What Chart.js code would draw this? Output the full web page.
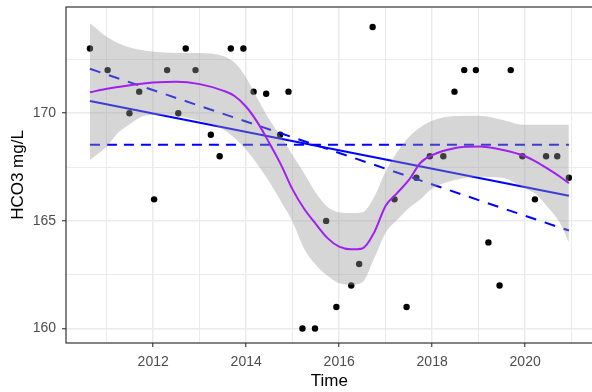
<!DOCTYPE html>
<html>
<head>
<meta charset="utf-8">
<script src="https://cdn.jsdelivr.net/npm/chart.js@4/dist/chart.umd.min.js"></script>
<style>
  html, body { margin: 0; padding: 0; background: #ffffff; overflow: hidden; }
  #wrap { width: 596px; height: 392px; }
</style>
</head>
<body>
<div id="wrap"><canvas id="chart" width="596" height="392"></canvas></div>
<script>
// Sampled HCO3 concentrations (mg/L) against decimal year
const sampleTime = [2010.64, 2011.02, 2011.49, 2011.70, 2012.02, 2012.30, 2012.54, 2012.70, 2012.91, 2013.24,
                    2013.43, 2013.67, 2013.94, 2014.16, 2014.43, 2014.73, 2014.91, 2015.21, 2015.48, 2015.72,
                    2015.94, 2016.26, 2016.43, 2016.72, 2017.19, 2017.45, 2017.66, 2017.95, 2018.24, 2018.48,
                    2018.69, 2018.94, 2019.21, 2019.45, 2019.69, 2019.94, 2020.21, 2020.45, 2020.69, 2020.94];
const hco3 = [173, 172, 170, 171, 166, 172, 170, 173, 172, 169,
              168, 173, 173, 171, 170.9, 169, 171, 160, 160, 165,
              161, 162, 163, 174, 166, 161, 167, 168, 168, 171,
              172, 172, 164, 162, 172, 168, 166, 168, 168, 167];

// Loess smooth with its confidence band
const smoothTime = [2010.64, 2011.0, 2011.25, 2011.5, 2011.75, 2012.0, 2012.5, 2013.0, 2013.5, 2013.75,
                    2014.0, 2014.25, 2014.5, 2014.75, 2015.0, 2015.25, 2015.5, 2015.75, 2016.0, 2016.25,
                    2016.5, 2016.75, 2017.0, 2017.25, 2017.5, 2017.75, 2018.0, 2018.5, 2019.0, 2019.5,
                    2020.0, 2020.25, 2020.5, 2020.75, 2020.94];
const smoothFit = [170.97, 171.13, 171.22, 171.30, 171.37, 171.42, 171.46, 171.35, 171.05, 170.80,
                   170.30, 169.55, 168.60, 167.60, 166.45, 165.55, 164.85, 164.20, 163.80, 163.68,
                   163.72, 164.45, 165.70, 166.30, 166.90, 167.70, 168.05, 168.38, 168.45, 168.30,
                   168.00, 167.73, 167.40, 167.05, 166.75];
const smoothUpper = [174.18, 173.55, 173.25, 173.05, 172.93, 172.85, 172.80, 172.80, 172.65, 172.35,
                     171.65, 170.65, 169.69, 168.90, 168.05, 167.20, 166.30, 165.65, 165.40, 165.36,
                     165.40, 166.10, 167.30, 168.20, 168.90, 169.35, 169.65, 169.87, 169.88, 169.70,
                     169.46, 169.46, 169.46, 169.46, 169.46];
const smoothLower = [167.83, 168.45, 169.10, 169.50, 169.84, 169.92, 169.87, 169.65, 169.25, 168.85,
                     168.30, 167.60, 166.80, 165.90, 164.95, 163.70, 162.95, 162.45, 162.10, 162.03,
                     162.15, 163.25, 164.45, 165.05, 165.60, 166.00, 166.50, 166.90, 167.05, 167.00,
                     166.50, 166.20, 165.60, 164.90, 164.00];

// Straight reference lines, given at the ends of the record
const lineTime = [2010.64, 2020.94];
const linearTrend = [170.57, 166.17];
const meanLevel = [168.53, 168.53];
const slopeTrend = [172.06, 164.55];

// Axis ranges and tick steps
const xRange = [2010.125, 2021.455];
const yRange = [159.33, 174.93];
const xTickStep = 1;     // every second tick is labelled
const yTickStep = 2.5;   // every second tick is labelled

const pts = (xs, ys) => xs.map((x, i) => ({ x: x, y: ys[i] }));

const FONT = "'Liberation Sans', Arial, Helvetica, sans-serif";
const GRID = '#EBEBEB';
const INK = '#333333';

const isMajorX = v => Math.abs(v / 2 - Math.round(v / 2)) < 1e-6;
const isMajorY = v => Math.abs(v / 5 - Math.round(v / 5)) < 1e-6;

const panelBorder = {
  id: 'panelBorder',
  afterDatasetsDraw(chart) {
    const { ctx, chartArea: a } = chart;
    ctx.save();
    ctx.strokeStyle = INK;
    ctx.lineWidth = 1.2;
    ctx.strokeRect(a.left, a.top, a.right - a.left, a.bottom - a.top);
    ctx.restore();
  }
};

new Chart(document.getElementById('chart'), {
  type: 'line',
  data: {
    datasets: [
      {
        label: 'HCO3',
        data: pts(sampleTime, hco3),
        showLine: false,
        pointRadius: 3.2,
        pointHoverRadius: 3.2,
        pointBackgroundColor: '#000000',
        pointBorderWidth: 0,
        order: 6
      },
      {
        label: 'Linear trend',
        data: pts(lineTime, linearTrend),
        borderColor: '#0000FF',
        borderWidth: 2,
        pointRadius: 0,
        fill: false,
        order: 5
      },
      {
        label: 'Mean',
        data: pts(lineTime, meanLevel),
        borderColor: '#0000FF',
        borderWidth: 2,
        borderDash: [10, 7],
        pointRadius: 0,
        fill: false,
        order: 4
      },
      {
        label: 'Slope',
        data: pts(lineTime, slopeTrend),
        borderColor: '#0000FF',
        borderWidth: 2,
        borderDash: [11, 9],
        pointRadius: 0,
        fill: false,
        order: 3
      },
      {
        label: 'Upper',
        data: pts(smoothTime, smoothUpper),
        borderWidth: 0,
        borderColor: 'rgba(0,0,0,0)',
        backgroundColor: 'rgba(153,153,153,0.4)',
        pointRadius: 0,
        cubicInterpolationMode: 'monotone',
        fill: '+1',
        order: 2
      },
      {
        label: 'Lower',
        data: pts(smoothTime, smoothLower),
        borderWidth: 0,
        borderColor: 'rgba(0,0,0,0)',
        pointRadius: 0,
        cubicInterpolationMode: 'monotone',
        fill: false,
        order: 2
      },
      {
        label: 'Loess',
        data: pts(smoothTime, smoothFit),
        borderColor: '#A020F0',
        borderWidth: 2,
        pointRadius: 0,
        cubicInterpolationMode: 'monotone',
        fill: false,
        order: 0
      }
    ]
  },
  options: {
    responsive: false,
    animation: false,
    devicePixelRatio: 1,
    layout: { padding: { left: 0, top: 7, right: 1, bottom: 0 } },
    plugins: {
      legend: { display: false },
      tooltip: { enabled: false },
      filler: { propagate: false }
    },
    scales: {
      x: {
        type: 'linear',
        min: xRange[0],
        max: xRange[1],
        border: { display: false },
        grid: {
          color: GRID,
          lineWidth: c => (c.tick && isMajorX(c.tick.value)) ? 1.5 : 1,
          tickLength: 4,
          tickWidth: 1.1,
          tickColor: c => (c.tick && isMajorX(c.tick.value)) ? INK : 'rgba(0,0,0,0)'
        },
        ticks: {
          stepSize: xTickStep,
          includeBounds: false,
          autoSkip: false,
          maxRotation: 0,
          padding: 7,
          color: '#4D4D4D',
          font: { family: FONT, size: 14 },
          callback: v => isMajorX(v) ? String(Math.round(v)) : ''
        },
        title: {
          display: true,
          text: 'Time',
          color: '#000000',
          font: { family: FONT, size: 17 },
          padding: { top: 0, bottom: 0 }
        },
        afterFit(scale) {
          scale.height = 49;
          scale.paddingLeft = 0;
          scale.paddingRight = 0;
        }
      },
      y: {
        type: 'linear',
        min: yRange[0],
        max: yRange[1],
        border: { display: false },
        grid: {
          color: GRID,
          lineWidth: c => (c.tick && isMajorY(c.tick.value)) ? 1.5 : 1,
          tickLength: 4,
          tickWidth: 1.1,
          tickColor: c => (c.tick && isMajorY(c.tick.value)) ? INK : 'rgba(0,0,0,0)'
        },
        ticks: {
          stepSize: yTickStep,
          includeBounds: false,
          autoSkip: false,
          padding: 6,
          color: '#4D4D4D',
          font: { family: FONT, size: 14 },
          callback: v => isMajorY(v) ? String(Math.round(v)) : ''
        },
        title: {
          display: true,
          text: 'HCO3 mg/L',
          color: '#000000',
          font: { family: FONT, size: 17 },
          padding: { top: 8, bottom: 0 }
        },
        afterFit(scale) {
          scale.width = 66;
          scale.paddingTop = 0;
          scale.paddingBottom = 0;
        }
      }
    }
  },
  plugins: [panelBorder]
});
</script>
</body>
</html>
